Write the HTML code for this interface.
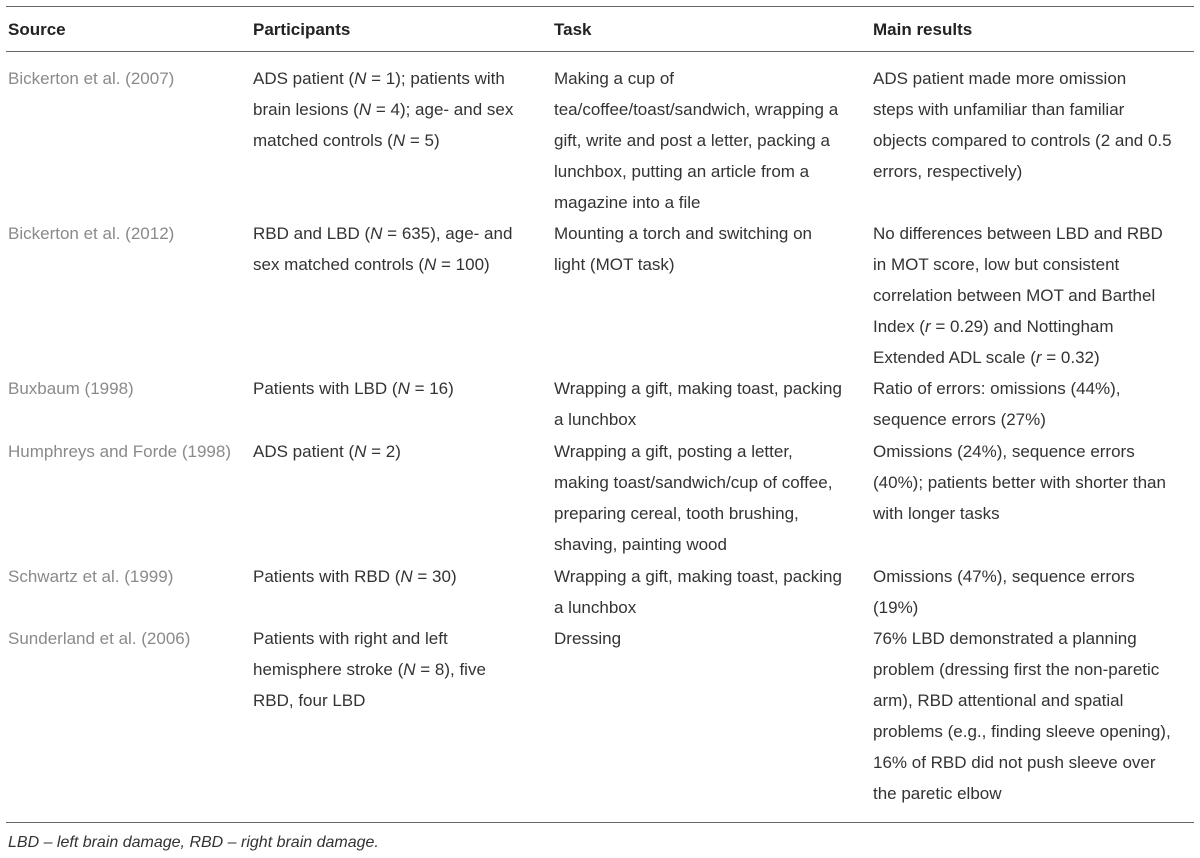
<!DOCTYPE html>
<html><head><meta charset="utf-8"><style>
body{margin:0;width:1200px;height:857px;background:#fff;font-family:"Liberation Sans",sans-serif;font-size:17px;color:#333;position:relative;overflow:hidden}
.l{position:absolute;left:6px;width:1188px;height:1px;background:#666}
.c{position:absolute;line-height:31px;white-space:nowrap}
.h{position:absolute;top:19px;font-weight:bold;color:#222;line-height:22px;font-size:17px}
.s{color:#8a8a8a}
.c1{left:8px}.c2{left:253px}.c3{left:554px}.c4{left:873px}
</style></head><body>
<div class="l" style="top:6px"></div>
<div class="l" style="top:51px"></div>
<div class="l" style="top:822px"></div>
<div class="h" style="left:8px">Source</div>
<div class="h" style="left:253px">Participants</div>
<div class="h" style="left:554px">Task</div>
<div class="h" style="left:873px">Main results</div>

<div class="c c1 s" style="top:63px">Bickerton et al. (2007)</div>
<div class="c c2" style="top:63px">ADS patient (<i>N</i> = 1); patients with<br>brain lesions (<i>N</i> = 4); age- and sex<br>matched controls (<i>N</i> = 5)</div>
<div class="c c3" style="top:63px">Making a cup of<br>tea/coffee/toast/sandwich, wrapping a<br>gift, write and post a letter, packing a<br>lunchbox, putting an article from a<br>magazine into a file</div>
<div class="c c4" style="top:63px">ADS patient made more omission<br>steps with unfamiliar than familiar<br>objects compared to controls (2 and 0.5<br>errors, respectively)</div>

<div class="c c1 s" style="top:218px">Bickerton et al. (2012)</div>
<div class="c c2" style="top:218px">RBD and LBD (<i>N</i> = 635), age- and<br>sex matched controls (<i>N</i> = 100)</div>
<div class="c c3" style="top:218px">Mounting a torch and switching on<br>light (MOT task)</div>
<div class="c c4" style="top:218px">No differences between LBD and RBD<br>in MOT score, low but consistent<br>correlation between MOT and Barthel<br>Index (<i>r</i> = 0.29) and Nottingham<br>Extended ADL scale (<i>r</i> = 0.32)</div>

<div class="c c1 s" style="top:373px">Buxbaum (1998)</div>
<div class="c c2" style="top:373px">Patients with LBD (<i>N</i> = 16)</div>
<div class="c c3" style="top:373px">Wrapping a gift, making toast, packing<br>a lunchbox</div>
<div class="c c4" style="top:373px">Ratio of errors: omissions (44%),<br>sequence errors (27%)</div>

<div class="c c1 s" style="top:436px">Humphreys and Forde (1998)</div>
<div class="c c2" style="top:436px">ADS patient (<i>N</i> = 2)</div>
<div class="c c3" style="top:436px">Wrapping a gift, posting a letter,<br>making toast/sandwich/cup of coffee,<br>preparing cereal, tooth brushing,<br>shaving, painting wood</div>
<div class="c c4" style="top:436px">Omissions (24%), sequence errors<br>(40%); patients better with shorter than<br>with longer tasks</div>

<div class="c c1 s" style="top:561px">Schwartz et al. (1999)</div>
<div class="c c2" style="top:561px">Patients with RBD (<i>N</i> = 30)</div>
<div class="c c3" style="top:561px">Wrapping a gift, making toast, packing<br>a lunchbox</div>
<div class="c c4" style="top:561px">Omissions (47%), sequence errors<br>(19%)</div>

<div class="c c1 s" style="top:623px">Sunderland et al. (2006)</div>
<div class="c c2" style="top:623px">Patients with right and left<br>hemisphere stroke (<i>N</i> = 8), five<br>RBD, four LBD</div>
<div class="c c3" style="top:623px">Dressing</div>
<div class="c c4" style="top:623px">76% LBD demonstrated a planning<br>problem (dressing first the non-paretic<br>arm), RBD attentional and spatial<br>problems (e.g., finding sleeve opening),<br>16% of RBD did not push sleeve over<br>the paretic elbow</div>

<div class="c" style="left:8px;top:827px;font-style:italic;font-size:16px">LBD – left brain damage, RBD – right brain damage.</div>
</body></html>
